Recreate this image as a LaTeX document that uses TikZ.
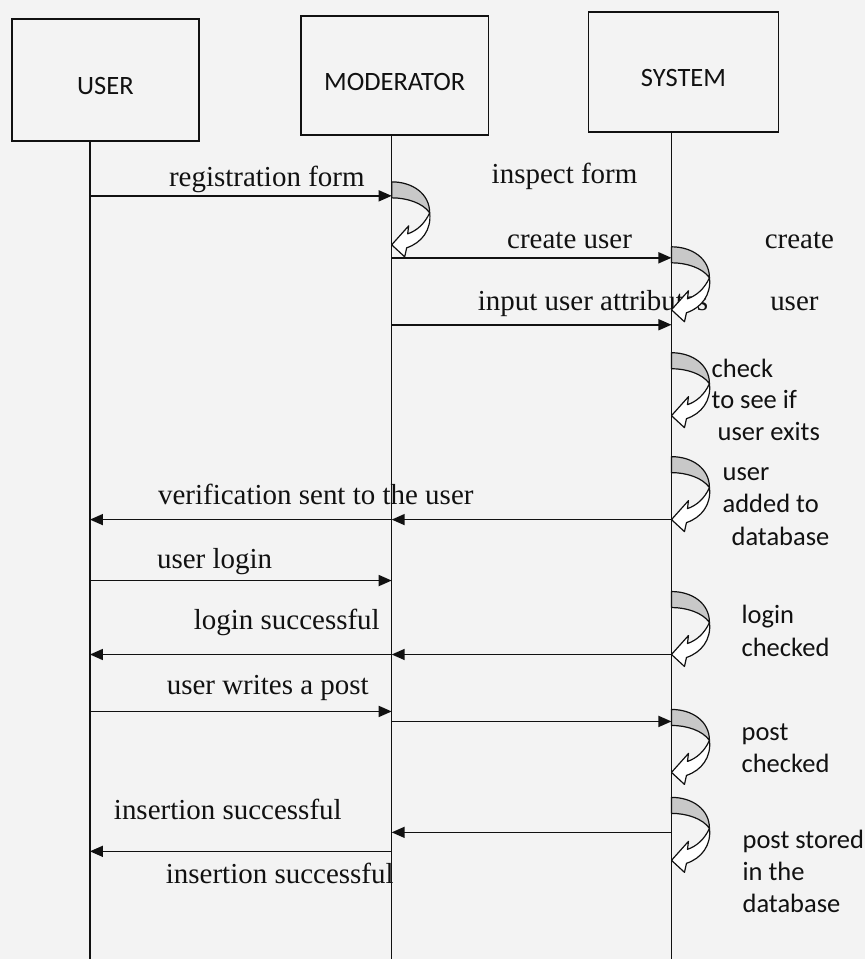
\documentclass[tikz,border=0pt]{standalone}
\usepackage{fontspec}
\setmainfont{Liberation Serif}
\newfontfamily\calsans{Carlito}
\usetikzlibrary{arrows.meta}
\definecolor{ink}{HTML}{111111}
\definecolor{paper}{HTML}{F3F3F3}
\definecolor{ribbon}{HTML}{C8C8C8}

% curved self-call arrow, drawn from the top point on the lifeline
\tikzset{
  selfloop/.pic={
    % back face (shaded)
    \filldraw[fill=ribbon, draw=ink, line width=1.2pt, line join=round]
      (0,0) .. controls (21,0) and (38,12) .. (38,31)
            .. controls (31,21) and (15,16) .. (0,16) -- cycle;
    % front face with the head
    \filldraw[fill=white, draw=ink, line width=1.2pt, line join=round]
      (38,31) .. controls (40,48) and (30,61) .. (15,66)
      -- (13,75) -- (0,63) -- (17,44) -- (16,52)
      .. controls (25,49) and (33,42) .. (38,31) -- cycle;
  }
}

\begin{document}
\begin{tikzpicture}[x=1pt, y=-1pt,
  >={Triangle[length=13pt, width=11pt]},
  msg/.style={ink, line width=1.6pt, ->},
  lifeline/.style={ink, line width=1.5pt},
  headbox/.style={draw=ink, line width=1.6pt, text=ink, inner sep=0pt,
    font=\calsans\fontsize{26.5}{30}\selectfont, text height=30pt, text depth=0pt},
  msgtext/.style={text=ink, inner sep=0pt, font=\fontsize{29}{32}\selectfont,
    text height=20pt, text depth=6pt},
  note/.style={text=ink, inner sep=0pt, anchor=west, font=\calsans\fontsize{26.5}{30}\selectfont,
    text height=18pt, text depth=6pt}]

% Background
\fill[paper] (0,0) rectangle (866,960);

% Participants
\node[headbox, minimum width=187pt, minimum height=122pt] (user) at (105.5,80) {USER};
\node[headbox, minimum width=188pt, minimum height=119pt] (moderator) at (395,75.5) {MODERATOR};
\node[headbox, minimum width=190pt, minimum height=120pt] (system) at (684,72) {SYSTEM};

% Message texts
\node[msgtext] (tReg) at (267,180) {registration form};
\node[msgtext] (tInspect) at (565,177) {inspect form};
\node[msgtext] (tCreate) at (570,242) {create user};
\node[msgtext] (tCreateR) at (800,242) {create};
\node[msgtext, anchor=west] (tInput) at (478,304) {input user attributes};
\node[msgtext] (tUserR) at (795,304) {user};
\node[msgtext] (tVerif) at (316,498) {verification sent to the user};
\node[msgtext, anchor=west] (tLogin) at (157,562) {user login};
\node[msgtext] (tSucc) at (287,623) {login successful};
\node[msgtext] (tWrite) at (268,688) {user writes a post};
\node[msgtext] (tIns) at (228,813) {insertion successful};
\node[msgtext] (tIns2) at (280,877) {insertion successful};

% Notes beside the system lifeline
\node[note] (nCheck) at (712,372) {check};
\node[note] (nSee) at (712,403) {to see if};
\node[note] (nExits) at (718,435) {user exits};
\node[note] (nUser) at (723,475) {user};
\node[note] (nAdded) at (723,507) {added to};
\node[note] (nDb) at (732,540) {database};
\node[note] (nLogin) at (742,618) {login};
\node[note] (nLogChk) at (742,651) {checked};
\node[note] (nPost) at (742,735) {post};
\node[note] (nPostChk) at (742,767) {checked};
\node[note] (nStored) at (743,843) {post stored};
\node[note] (nIn) at (743,875) {in the};
\node[note] (nDb2) at (743,907) {database};

% Lifelines
\coordinate (uEnd) at (90,960);
\coordinate (mEnd) at (392,960);
\coordinate (sEnd) at (672,960);
\draw[lifeline] (user.south -| uEnd) -- (uEnd);
\draw[lifeline] (moderator.south -| mEnd) -- (mEnd);
\draw[lifeline] (system.south -| sEnd) -- (sEnd);

% Points on the lifelines, one row per message
\foreach \n/\y in {reg/196, cre/258, inp/325, ver/520, log/581, suc/655,
                   wri/712, fwd/722, ins/833, ret/852}{
  \coordinate (u-\n) at (90,\y);
  \coordinate (m-\n) at (392,\y);
  \coordinate (s-\n) at (672,\y);
}

% Messages
\draw[msg] (u-reg) -- (m-reg);
\draw[msg] (m-cre) -- (s-cre);
\draw[msg] (m-inp) -- (s-inp);
\draw[msg] (s-ver) -- (m-ver);
\draw[msg] (m-ver) -- (u-ver);
\draw[msg] (u-log) -- (m-log);
\draw[msg] (s-suc) -- (m-suc);
\draw[msg] (m-suc) -- (u-suc);
\draw[msg] (u-wri) -- (m-wri);
\draw[msg] (m-fwd) -- (s-fwd);
\draw[msg] (s-ins) -- (m-ins);
\draw[msg] (m-ret) -- (u-ret);

% Self calls
\pic at (392,182) {selfloop};
\foreach \y in {247,353,457,592,710,798}
  \pic at (672,\y) {selfloop};

\end{tikzpicture}
\end{document}
